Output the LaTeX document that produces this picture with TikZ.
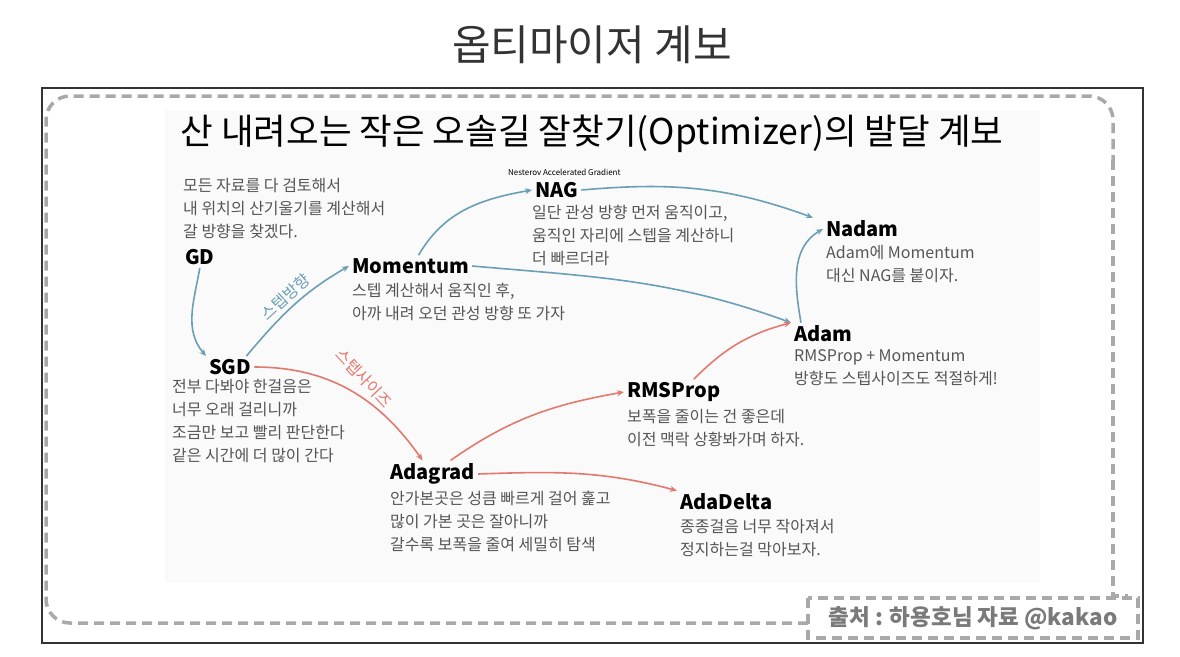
\documentclass[tikz,border=0pt]{standalone}
\usepackage{fontspec}
\setmainfont{Noto Sans CJK KR}
\usetikzlibrary{arrows.meta}
\definecolor{stepblue}{HTML}{6A9FB5}
\definecolor{stepred}{HTML}{E2796D}
\definecolor{descgray}{HTML}{555555}
\definecolor{dashgray}{HTML}{A9A9A9}
\definecolor{titlegray}{HTML}{333333}
\definecolor{creditgray}{HTML}{7A7A7A}
\definecolor{panel}{HTML}{FAFAFB}

\begin{document}
\begin{tikzpicture}[x=1pt,y=-1pt,
  algo/.style={font=\fontsize{20}{24}\selectfont\bfseries,anchor=west,inner sep=3pt},
  desc/.style={font=\fontsize{16}{23}\selectfont,text=descgray,anchor=north west,align=left,inner sep=0pt},
  bluearrow/.style={stepblue,line width=1.6pt,-{Stealth[length=7pt,width=6pt]}},
  redarrow/.style={stepred,line width=1.6pt,-{Stealth[length=7pt,width=6pt]}},
  frame/.style={dashgray,line width=3.5pt,dash pattern=on 10pt off 6pt}]
\useasboundingbox (0,0) rectangle (1180,656);
\fill[white] (0,0) rectangle (1180,656);
\node[font=\fontsize{42}{44}\selectfont,text=titlegray] (title) at (592,45) {옵티마이저 계보};
\draw[titlegray,line width=1.2pt] (42,88) rectangle (1143,643);
\fill[panel] (165,110) rectangle (1040,582);
% dashed frame
\draw[frame,rounded corners=24pt] (808,623) -- (46,623) -- (46,96) -- (1113,96) -- (1113,160);
\draw[frame] (1113,160) -- (1113,596) -- (1128,596);
\draw[frame] (808,598) rectangle (1138,638);
\node[font=\fontsize{22.5}{24}\selectfont\bfseries,text=creditgray] (credit) at (973,618) {출처 : 하용호님 자료 @kakao};
\node[font=\fontsize{35.5}{38}\selectfont] (subtitle) at (592,134) {산 내려오는 작은 오솔길 잘찾기(Optimizer)의 발달 계보};

% optimizers
\node[algo] (gd) at (182,257) {GD};
\node[algo] (mom) at (349,266) {Momentum};
\node[algo] (nag) at (532,190) {NAG};
\node[algo] (nadam) at (823,229) {Nadam};
\node[algo] (adam) at (791,334) {Adam};
\node[algo] (sgd) at (206,367) {SGD};
\node[algo] (rms) at (624,392) {RMSProp};
\node[algo] (adagrad) at (387,474) {Adagrad};
\node[algo] (adadelta) at (677,502) {AdaDelta};
\node[font=\fontsize{8}{9}\selectfont,anchor=west,inner sep=0pt] (nagfull) at (508,172) {Nesterov Accelerated Gradient};

% descriptions
\node[desc] (gdtxt) at (183,178) {모든 자료를 다 검토해서\\내 위치의 산기울기를 계산해서\\갈 방향을 찾겠다.};
\node[desc] (momtxt) at (352,283) {스텝 계산해서 움직인 후,\\아까 내려 오던 관성 방향 또 가자};
\node[desc] (nagtxt) at (532,205) {일단 관성 방향 먼저 움직이고,\\움직인 자리에 스텝을 계산하니\\더 빠르더라};
\node[desc] (nadamtxt) at (826,245) {Adam에 Momentum\\대신 NAG를 붙이자.};
\node[desc] (adamtxt) at (794,349) {RMSProp + Momentum\\방향도 스텝사이즈도 적절하게!};
\node[desc] (sgdtxt) at (172,379) {전부 다봐야 한걸음은\\너무 오래 걸리니까\\조금만 보고 빨리 판단한다\\같은 시간에 더 많이 간다};
\node[desc] (rmstxt) at (627,409) {보폭을 줄이는 건 좋은데\\이전 맥락 상황봐가며 하자.};
\node[desc] (adagradtxt) at (390,491) {안가본곳은 성큼 빠르게 걸어 훑고\\많이 가본 곳은 잘아니까\\갈수록 보폭을 줄여 세밀히 탐색};
\node[desc] (adadeltatxt) at (680,519) {종종걸음 너무 작아져서\\정지하는걸 막아보자.};

% step direction
\draw[bluearrow] (gd.south) to[out=-100,in=130] (sgd.north west);
\draw[bluearrow] ([xshift=-8pt]sgd.north east) to[out=50,in=210] node[midway,sloped,above,font=\fontsize{16}{18}\selectfont,text=stepblue] {스텝방향} (mom.west);
\draw[bluearrow] ([xshift=8pt]mom.north) to[out=60,in=190] (nag.west);
\draw[bluearrow] (nag.east) to[out=5,in=160] ([xshift=-10pt]nadam.north west);
\draw[bluearrow] (mom.east) to[out=-5,in=160] (adam.north west);
\draw[bluearrow] ([xshift=10pt]adam.north west) to[out=100,in=210] (nadam.west);
% step size
\draw[redarrow] (sgd.east) to[out=0,in=125] node[pos=0.5,rotate=-47,above=7pt,font=\fontsize{16}{18}\selectfont,text=stepred] {스텝사이즈} ([xshift=-10pt]adagrad.north);
\draw[redarrow] ([xshift=18pt]adagrad.north) to[out=35,in=190] (rms.west);
\draw[redarrow] ([xshift=20pt]rms.north) to[out=45,in=195] (adam.north west);
\draw[redarrow] (adagrad.east) to[out=2,in=165] (adadelta.north west);
\end{tikzpicture}
\end{document}
